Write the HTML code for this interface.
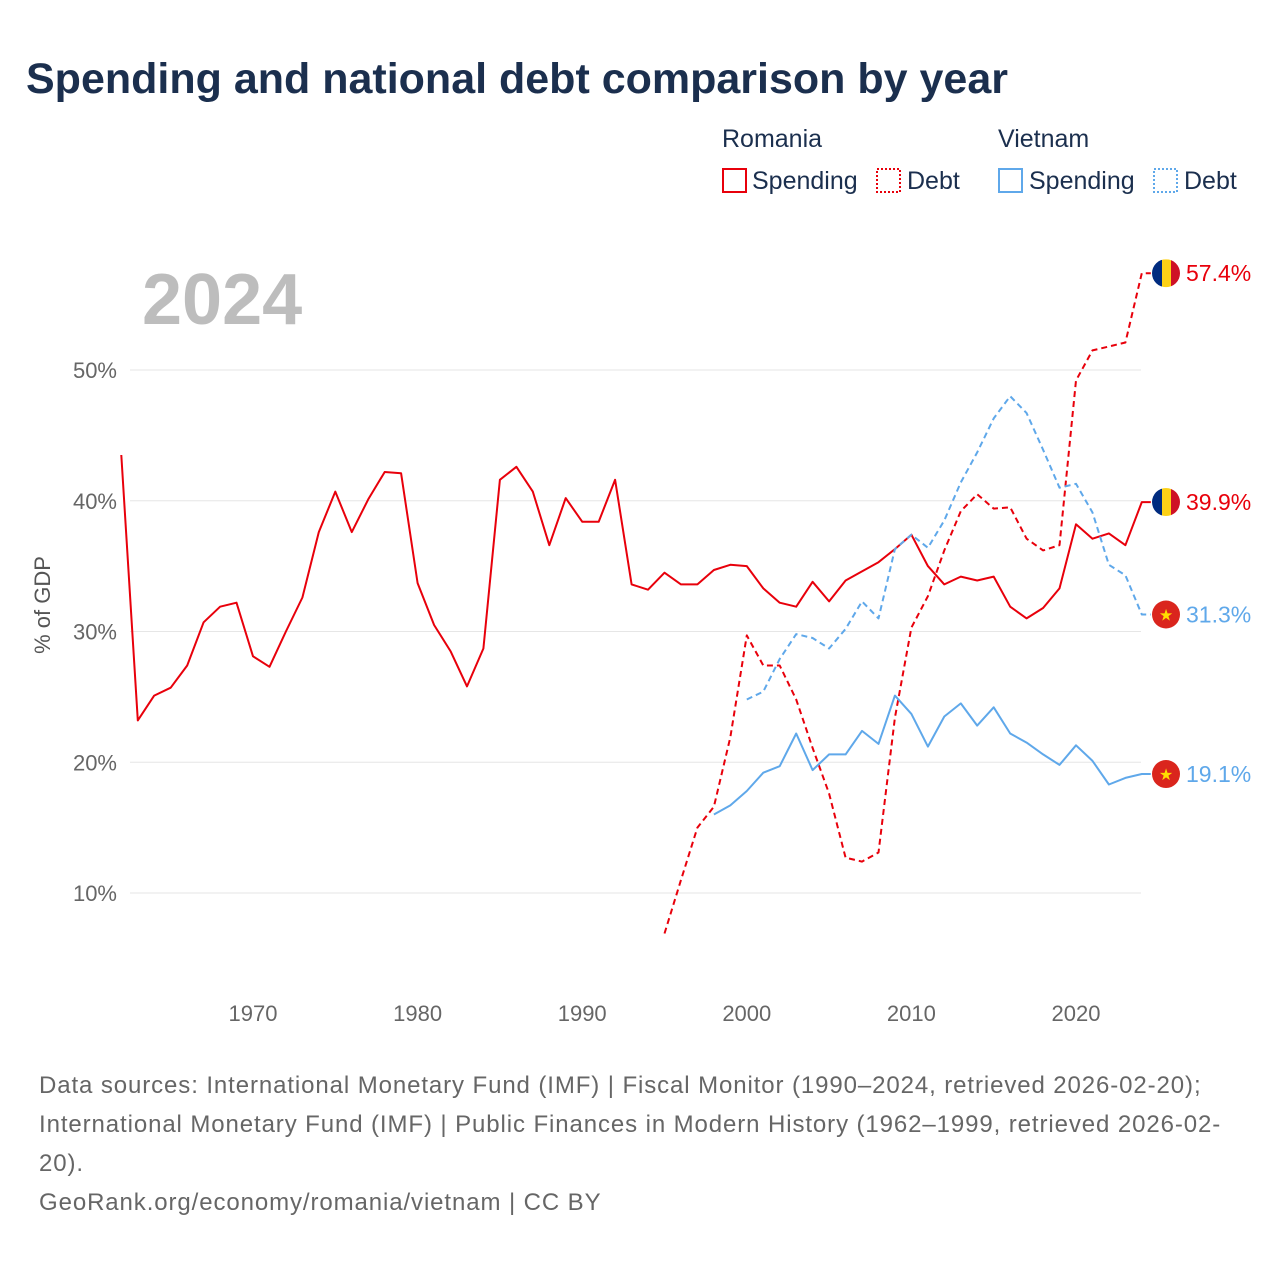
<!DOCTYPE html>
<html><head><meta charset="utf-8"><style>
body{margin:0;background:#fff;width:1280px;height:1280px;overflow:hidden;font-family:"Liberation Sans",sans-serif}
</style></head><body>
<svg width="1280" height="1280" xmlns="http://www.w3.org/2000/svg" font-family="Liberation Sans, sans-serif">
<text x="26" y="93" font-size="43" font-weight="bold" fill="#1b2f4e">Spending and national debt comparison by year</text>
<g font-size="25" fill="#1b2f4e">
<text x="722" y="147">Romania</text>
<text x="998" y="147">Vietnam</text>
<g><rect x="723" y="169" width="23" height="23" fill="none" stroke="#e8000b" stroke-width="2"/><text x="752" y="189">Spending</text></g>
<g><rect x="877" y="169" width="23" height="23" fill="none" stroke="#e8000b" stroke-width="2" stroke-dasharray="2 2"/><text x="907" y="189">Debt</text></g>
<g><rect x="999" y="169" width="23" height="23" fill="none" stroke="#5fa8ea" stroke-width="2"/><text x="1029" y="189">Spending</text></g>
<g><rect x="1154" y="169" width="23" height="23" fill="none" stroke="#5fa8ea" stroke-width="2" stroke-dasharray="2 2"/><text x="1184" y="189">Debt</text></g>
</g>
<text x="142" y="324" font-size="72" font-weight="bold" fill="#bdbdbd">2024</text>
<text transform="translate(50,605) rotate(-90)" text-anchor="middle" font-size="22" fill="#555">% of GDP</text>
<g id="grid"></g><g id="series"></g><g id="ends"></g>
<g font-size="24" fill="#666" letter-spacing="0.9">
<text x="39" y="1093">Data sources: International Monetary Fund (IMF) | Fiscal Monitor (1990–2024, retrieved 2026-02-20);</text>
<text x="39" y="1132">International Monetary Fund (IMF) | Public Finances in Modern History (1962–1999, retrieved 2026-02-</text>
<text x="39" y="1171">20).</text>
<text x="39" y="1210">GeoRank.org/economy/romania/vietnam | CC BY</text>
</g>
</svg>
<script>
const roSpendStart=1962;
const roSpend=[43.5,23.2,25.1,25.7,27.4,30.7,31.9,32.2,28.1,27.3,30.0,32.6,37.6,40.7,37.6,40.1,42.2,42.1,33.7,30.5,28.5,25.8,28.7,41.6,42.6,40.7,36.6,40.2,38.4,38.4,41.6,33.6,33.2,34.5,33.6,33.6,34.7,35.1,35.0,33.3,32.2,31.9,33.8,32.3,33.9,34.6,35.3,36.3,37.4,35.0,33.6,34.2,33.9,34.2,31.9,31.0,31.8,33.3,38.2,37.1,37.5,36.6,39.9];
const roDebtStart=1995;
const roDebt=[6.9,11.0,15.0,16.6,21.9,29.7,27.4,27.4,24.8,21.1,17.6,12.7,12.4,13.1,23.4,30.3,32.7,36.2,39.2,40.5,39.4,39.5,37.1,36.2,36.6,49.2,51.5,51.8,52.1,57.4];
const vnSpendStart=1998;
const vnSpend=[16.0,16.7,17.8,19.2,19.7,22.2,19.4,20.6,20.6,22.4,21.4,25.1,23.7,21.2,23.5,24.5,22.8,24.2,22.2,21.5,20.6,19.8,21.3,20.1,18.3,18.8,19.1];
const vnDebtStart=2000;
const vnDebt=[24.8,25.4,27.9,29.8,29.5,28.7,30.2,32.3,31.0,36.3,37.4,36.4,38.5,41.4,43.7,46.3,48.0,46.7,43.9,41.0,41.3,39.1,35.1,34.3,31.3];
const yTicks=[10,20,30,40,50];
const xTicks=[1970,1980,1990,2000,2010,2020];
const NS="http://www.w3.org/2000/svg";
const X=y=>253+(y-1970)*16.46;
const Y=v=>1023.75-v*13.075;
function mk(t,a,p){const e=document.createElementNS(NS,t);for(const k in a)e.setAttribute(k,a[k]);p.appendChild(e);return e;}
const grid=document.getElementById('grid');
yTicks.forEach(v=>{
 const l=mk('line',{x1:130,x2:1141,y1:Y(v),y2:Y(v),stroke:'#e6e6e6','stroke-width':1},grid);
 
 
 const t=mk('text',{x:117,y:Y(v)+8,'text-anchor':'end','font-size':22,fill:'#666'},grid);t.textContent=v+'%';
 
 
});
xTicks.forEach(y=>{
 const t=mk('text',{x:X(y),y:1021,'text-anchor':'middle','font-size':22,fill:'#666'},grid);t.textContent=y;
 
 
});
const ser=document.getElementById('series');
function line(arr,start,col,dash,name){
 const pts=arr.map((v,i)=>X(start+i).toFixed(1)+','+Y(v).toFixed(1));
 pts.push((X(start+arr.length-1)+9).toFixed(1)+','+Y(arr[arr.length-1]).toFixed(1));
 const p=mk('polyline',{points:pts.join(' '),fill:'none',stroke:col,'stroke-width':2,'stroke-dasharray':dash?'6 4':'none','stroke-linejoin':'round'},ser);
 
 
}
line(roSpend,roSpendStart,'#e8000b',false,'romania-spending-line');
line(roDebt,roDebtStart,'#e8000b',true,'romania-debt-line');
line(vnSpend,vnSpendStart,'#5fa8ea',false,'vietnam-spending-line');
line(vnDebt,vnDebtStart,'#5fa8ea',true,'vietnam-debt-line');
const ends=document.getElementById('ends');
function flag(v,ro,col,name){
 const cy=Y(v),cx=1166;
 const g=mk('g',{},ends);
 
 
 if(ro){
  mk('clipPath',{id:'c'+name},g);
  const cp=g.lastChild;mk('circle',{cx:cx,cy:cy,r:14},cp);
  const gg=mk('g',{'clip-path':'url(#c'+name+')'},g);
  mk('rect',{x:cx-14,y:cy-14,width:10,height:28,fill:'#002b7f'},gg);
  mk('rect',{x:cx-4,y:cy-14,width:9,height:28,fill:'#fcd116'},gg);
  mk('rect',{x:cx+5,y:cy-14,width:10,height:28,fill:'#ce1126'},gg);
 }else{
  mk('circle',{cx:cx,cy:cy,r:14,fill:'#da251d'},g);
  const s=mk('text',{x:cx,y:cy+6,'text-anchor':'middle','font-size':16,fill:'#ffde00'},g);s.textContent='★';
 }
 const t=mk('text',{x:1186,y:cy+8,'font-size':23,fill:col},g);t.textContent=v.toFixed(1)+'%';
}
flag(roDebt[roDebt.length-1],true,'#e8000b','romania-debt-end-label');
flag(roSpend[roSpend.length-1],true,'#e8000b','romania-spending-end-label');
flag(vnDebt[vnDebt.length-1],false,'#5fa8ea','vietnam-debt-end-label');
flag(vnSpend[vnSpend.length-1],false,'#5fa8ea','vietnam-spending-end-label');
</script>
</body></html>
